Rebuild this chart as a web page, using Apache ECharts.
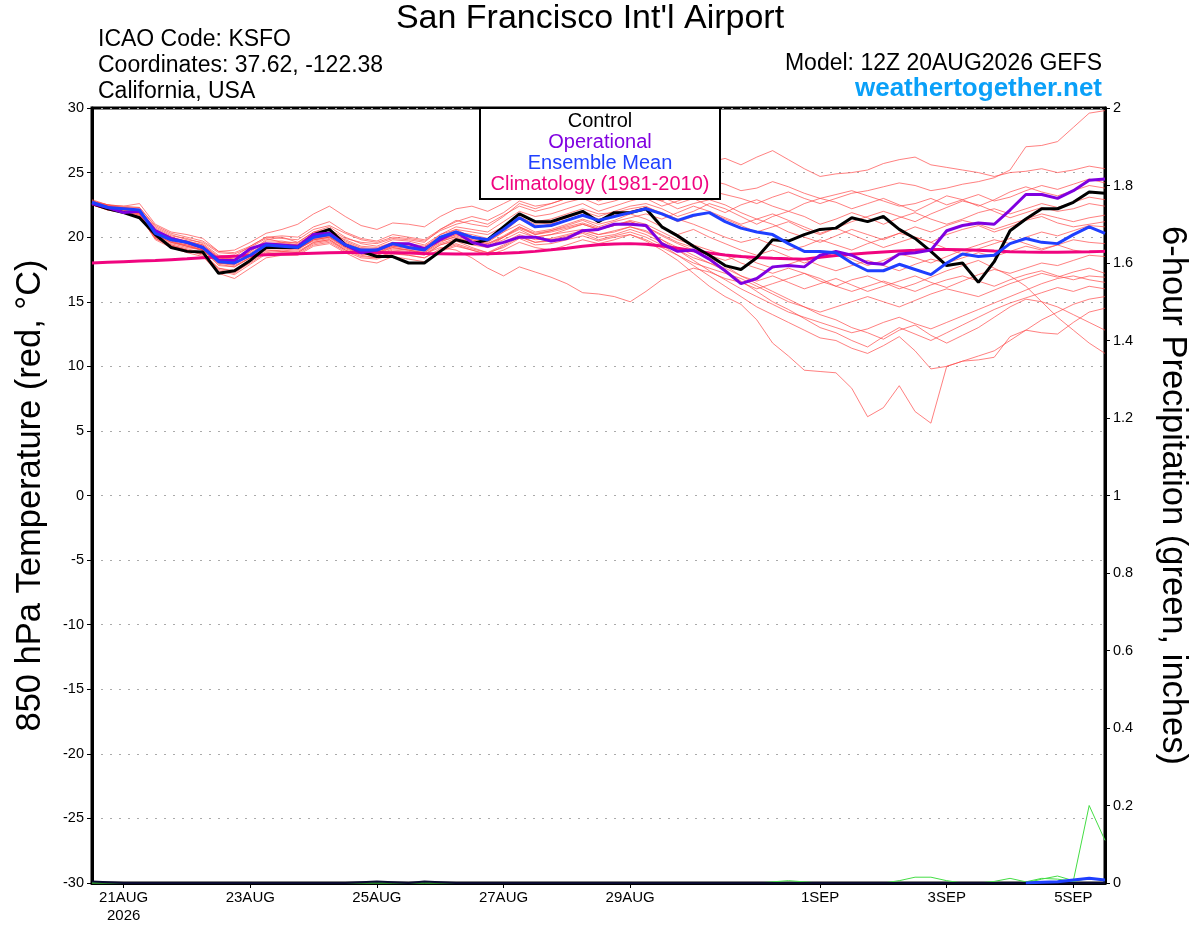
<!DOCTYPE html>
<html><head><meta charset="utf-8">
<script src="https://cdn.jsdelivr.net/npm/echarts@6/dist/echarts.min.js"></script>
<style>html,body{margin:0;padding:0;background:#fff}#c{width:1200px;height:927px}</style>
</head><body><div id="c"></div>
<script>
// 6-hourly steps from 12Z 20 AUG 2026 to 12Z 5 SEP 2026 (65 points)
const startUTC = Date.UTC(2026, 7, 20, 12);
const categories = [];
for (let i = 0; i < 65; i++) { const d = new Date(startUTC + i * 6 * 3600 * 1000); categories.push(d.toISOString().slice(5, 13) + 'Z'); }
const xTickLabels = {2: '21AUG\n2026', 10: '23AUG', 18: '25AUG', 26: '27AUG', 34: '29AUG', 46: '1SEP', 54: '3SEP', 62: '5SEP'};

const control = [22.6,22.2,21.9,21.5,20.2, 19.2,18.9,18.85,17.2,17.4, 18.2,19.2,19.2,19.2,20.2, 20.6,19.4,18.9,18.5,18.5, 18.0,18.0,18.9,19.8,19.5, 19.8,20.8,21.8,21.2,21.2, 21.6,22.0,21.2,21.9,21.9, 22.2,20.8,20.1,19.3,18.6, 17.8,17.5,18.4,19.8,19.7, 20.2,20.6,20.7,21.5,21.2, 21.6,20.6,19.9,18.9,17.8, 18.0,16.5,18.1,20.5,21.4, 22.2,22.2,22.7,23.5,23.4];
const operational = [22.6,22.3,21.9,22.0,20.5, 19.9,19.6,19.2,18.2,18.2, 19.1,19.5,19.4,19.3,20.2, 20.3,19.4,18.8,19.0,19.5, 19.5,19.1,19.8,20.4,19.6, 19.3,19.6,20.0,20.0,19.7, 19.9,20.5,20.6,21.0,21.0, 20.9,19.5,18.9,19.0,18.3, 17.4,16.4,16.8,17.7,17.8, 17.7,18.6,18.9,18.6,18.0, 17.9,18.7,18.8,19.0,20.5, 20.9,21.1,21.0,22.1,23.3, 23.3,23.0,23.6,24.4,24.5];
const ensembleMean = [22.7,22.3,22.2,22.1,20.3, 19.8,19.6,19.2,18.1,18.0, 18.6,19.4,19.3,19.2,20.0, 20.2,19.4,19.0,19.0,19.5, 19.2,19.0,20.0,20.4,20.0, 19.8,20.6,21.5,20.8,20.9, 21.3,21.7,21.3,21.6,21.9, 22.2,21.8,21.3,21.7,21.9, 21.2,20.7,20.4,20.2,19.5, 18.9,18.9,18.8,18.0,17.4, 17.4,17.9,17.5,17.1,18.0, 18.7,18.5,18.6,19.5,19.9, 19.6,19.5,20.2,20.8,20.3];
const climatology = [18.0,18.05,18.1,18.15,18.2, 18.26,18.32,18.4,18.47,18.53, 18.58,18.63,18.68,18.72,18.76, 18.8,18.82,18.83,18.82,18.8, 18.77,18.74,18.72,18.7,18.7, 18.72,18.76,18.82,18.9,19.02, 19.15,19.3,19.42,19.48,19.5, 19.45,19.32,19.15,18.95,18.77, 18.62,18.5,18.42,18.36,18.32, 18.3,18.45,18.58,18.68,18.78, 18.86,18.92,18.98,19.05,19.05, 19.02,18.98,18.92,18.88,18.85, 18.83,18.83,18.85,18.87,18.9];

const member01 = [22.9,22.5,22.4,22.6,21.0, 20.4,20.2,19.9,18.9,19.0, 19.6,20.3,20.6,21.0,21.8, 22.4,21.6,20.9,20.6,21.1, 21.0,20.8,21.6,22.2,22.4, 22.0,22.6,23.2,23.0,23.4, 23.9,24.2,23.6,23.8,24.3, 24.0,23.5,24.4,25.3,25.8, 26.1,25.6,26.2,26.7,26.0, 25.3,24.7,24.9,25.0,25.2, 25.7,26.0,26.2,25.6,25.4, 25.2,25.0,24.7,25.0,25.1, 25.3,25.0,25.2,25.5,25.3];
const member02 = [22.6,22.3,22.3,22.1,20.7, 20.1,19.9,19.5,18.6,18.5, 19.3,20.0,19.9,19.8,20.6, 20.9,20.3,19.8,19.6,20.0, 19.9,19.7,20.5,21.0,21.3, 21.0,21.7,22.4,22.0,22.3, 22.7,23.0,22.5,22.8,23.2, 23.0,22.4,22.8,23.2,23.6, 23.3,23.0,22.6,23.1,23.5, 23.0,22.6,23.0,23.4,23.6, 23.9,24.2,24.0,23.6,23.8, 24.1,24.3,24.6,25.2,27.0, 27.1,27.4,28.5,29.6,29.8];
const member03 = [22.8,22.4,22.1,21.8,20.2, 19.6,19.4,19.0,18.0,17.9, 18.9,19.8,20.0,19.6,20.4, 20.8,20.0,19.5,19.3,19.8, 19.7,19.4,20.2,20.8,20.6, 20.4,21.2,22.0,21.6,21.8, 22.2,22.6,22.0,22.4,22.8, 23.1,22.8,23.4,23.9,24.4, 24.1,23.6,23.8,24.3,23.9, 23.4,23.0,23.3,23.6,23.2, 22.8,22.4,22.6,23.0,22.5, 22.9,23.3,22.8,23.1,23.6, 24.0,23.7,24.1,24.5,24.2];
const member04 = [22.7,22.5,22.2,22.2,20.6, 20.0,19.7,19.4,18.5,18.3, 18.9,19.7,19.7,19.5,20.3, 20.6,19.9,19.6,19.5,19.9, 19.8,19.6,20.6,21.3,21.0, 20.8,21.6,22.6,22.2,22.6, 23.0,23.4,22.8,23.2,23.6, 23.8,23.1,22.6,23.0,22.4, 21.9,22.5,22.9,22.4,22.0, 22.6,23.0,22.7,22.2,22.6, 23.0,22.5,22.0,22.6,23.2, 22.9,22.4,22.9,23.5,23.9, 23.5,23.2,23.6,24.0,23.8];
const member05 = [22.6,22.2,22.0,21.7,20.1, 19.5,19.2,19.0,17.8,17.7, 18.4,19.1,19.1,19.0,19.8, 20.0,19.2,18.7,18.6,19.1, 19.0,18.8,19.7,20.2,19.9, 19.6,20.4,21.4,20.8,21.0, 21.6,22.0,21.6,22.0,22.4, 22.6,22.2,21.6,22.0,22.6, 22.2,21.6,21.0,21.6,22.0, 21.6,21.0,21.4,21.9,21.5, 21.0,21.5,21.9,21.4,21.0, 21.4,21.9,22.2,21.8,22.2, 22.6,22.3,22.7,23.1,22.9];
const member06 = [22.8,22.3,22.3,22.3,20.8, 20.2,19.8,19.6,18.8,18.7, 19.2,19.9,19.6,19.4,20.0, 20.3,19.8,19.3,19.2,19.6, 19.5,19.3,20.0,20.6,20.4, 20.2,20.8,21.8,21.2,21.4, 21.8,22.2,21.8,21.9,22.2, 22.4,21.8,21.2,21.6,21.9, 21.4,20.9,20.4,20.8,21.2, 20.6,20.2,20.7,21.2,21.6, 22.0,21.6,21.2,21.8,22.3, 22.8,22.5,22.0,21.5,21.9, 22.3,22.0,22.2,22.6,22.4];
const member07 = [22.5,22.1,21.9,21.6,19.9, 19.3,19.0,18.7,17.6,17.4, 18.2,19.0,18.9,18.8,19.6, 19.8,19.0,18.5,18.4,18.9, 18.8,18.6,19.4,19.8,19.4, 19.2,20.0,20.8,20.2,20.5, 20.9,21.3,20.8,21.2,21.5, 21.8,21.4,21.9,22.4,22.0, 21.5,21.0,21.4,21.0,20.4, 20.0,19.6,20.1,20.6,20.2, 19.8,20.3,20.8,20.4,20.9, 21.3,21.0,20.6,21.0,21.4, 21.8,21.5,21.2,21.5,21.7];
const member08 = [22.7,22.3,22.1,21.9,20.3, 19.7,19.4,19.1,18.1,18.0, 18.6,19.3,19.3,19.2,19.9, 20.1,19.4,19.0,18.9,19.3, 19.2,19.0,19.8,20.4,20.2, 19.9,20.7,21.6,21.0,21.1, 21.5,21.9,21.4,21.7,22.0, 22.3,21.9,21.4,21.0,20.5, 20.0,19.6,19.9,19.4,19.0, 19.3,19.8,19.4,19.0,19.5, 19.9,20.3,20.0,19.6,20.2, 20.6,20.9,20.4,20.8,21.3, 21.6,21.1,20.8,21.0,21.2];
const member09 = [22.6,22.4,22.3,22.1,20.5, 19.9,19.7,19.4,18.4,18.3, 18.8,19.5,19.6,19.6,20.4, 20.6,19.7,19.2,19.1,19.6, 19.4,19.2,20.2,20.6,20.0, 19.7,20.4,21.0,20.4,20.6, 21.0,21.4,21.0,21.3,21.8, 21.4,20.8,20.2,20.6,20.0, 19.5,19.0,18.6,19.0,18.5, 18.0,18.4,18.8,18.3,17.8, 18.2,18.7,18.4,18.0,18.5, 19.0,19.4,19.8,19.5,20.0, 20.4,20.1,20.5,20.9,20.8];
const member10 = [22.8,22.5,22.3,22.0,20.5, 20.0,19.6,19.3,18.4,18.2, 18.7,19.5,19.5,19.4,20.1, 20.3,19.6,19.1,19.0,19.5, 19.3,19.1,19.9,20.3,19.8, 19.5,20.0,20.6,20.0,20.2, 20.6,21.0,20.6,20.9,21.2, 20.8,20.2,19.6,19.2,18.6, 18.2,18.6,18.0,17.6,17.9, 18.3,17.8,17.4,17.8,18.2, 17.8,17.4,17.9,18.3,18.0, 18.4,18.8,18.5,18.9,19.3, 19.0,19.4,19.8,19.6,19.5];
const member11 = [22.5,22.2,22.0,21.9,20.2, 19.6,19.3,19.0,18.0,17.9, 18.5,19.2,19.2,19.1,19.7, 19.9,19.2,18.8,18.7,19.2, 19.0,18.8,19.5,19.9,19.6, 19.3,19.8,20.4,20.0,20.2, 20.4,20.6,20.2,20.5,20.8, 20.5,19.8,19.2,18.6,18.0, 17.6,17.0,16.6,17.0,16.5, 16.0,16.4,16.8,16.3,15.8, 16.2,16.6,17.0,16.5,16.1, 16.6,17.1,17.5,17.2,17.6, 18.0,17.8,18.2,18.6,18.5];
const member12 = [22.6,22.3,22.1,21.8,20.0, 19.4,19.1,18.8,17.6,17.3, 18.0,18.8,18.9,18.8,19.5, 19.7,19.0,18.6,18.4,18.8, 18.6,18.4,19.0,19.4,19.0, 18.6,19.0,19.6,19.2,19.0, 19.4,19.8,19.5,19.8,20.2, 19.8,19.2,18.6,18.0,17.6, 17.2,16.8,16.2,15.6,15.0, 14.6,14.2,14.6,15.0,15.4, 15.0,14.6,15.1,15.6,16.0, 15.7,15.4,15.9,16.4,16.8, 17.2,16.9,17.3,17.6,17.2];
const member13 = [22.7,22.4,22.1,21.9,20.3, 19.7,19.3,19.0,17.9,17.7, 18.4,19.1,19.2,19.1,19.8, 20.0,19.3,18.9,18.8,19.2, 19.0,18.7,19.2,19.0,18.4, 17.6,17.0,17.7,17.3,16.9, 16.4,15.7,15.6,15.4,15.0, 15.8,16.7,17.2,17.6,17.3, 16.8,16.5,16.0,16.4,16.8, 17.2,16.8,16.2,15.8,16.2, 16.6,16.2,15.8,16.3,16.7, 17.0,16.6,16.2,16.7,17.1, 17.4,17.0,16.7,17.0,16.9];
const member14 = [22.6,22.2,22.0,21.7,19.8, 19.2,18.8,18.5,17.2,16.8, 17.6,18.4,18.6,18.6,19.3, 19.5,18.8,18.2,18.0,18.5, 18.3,18.1,18.9,19.3,19.0, 18.7,19.3,20.0,19.6,19.8, 20.1,20.4,20.0,20.2,20.6, 20.2,19.6,19.0,18.2,17.4, 16.7,16.0,15.4,14.8,14.2, 13.8,13.4,13.0,12.6,12.9, 13.4,13.8,13.3,12.9,13.4, 13.9,14.4,14.9,15.4,15.9, 16.4,16.8,17.0,16.7,16.5];
const member15 = [22.8,22.4,22.2,22.0,20.4, 19.8,19.5,19.2,18.3,18.1, 18.6,19.3,19.3,19.2,19.9, 20.1,19.4,19.0,18.9,19.4, 19.2,19.0,19.7,20.0,19.6, 19.2,19.6,20.2,19.8,19.9, 20.2,20.5,20.2,20.4,20.8, 20.4,19.8,19.0,18.4,18.0, 17.4,16.6,15.8,15.0,14.4, 13.7,13.0,12.6,12.0,11.5, 12.3,13.0,12.5,12.0,12.6, 13.2,13.8,14.4,14.9,15.3, 15.7,16.1,15.8,16.2,16.0];
const member16 = [22.5,22.1,21.9,21.6,19.9, 19.3,19.0,18.6,17.4,17.1, 17.9,18.7,18.8,18.7,19.4, 19.6,18.9,18.4,18.3,18.7, 18.6,18.4,19.1,19.5,19.1, 18.8,19.4,20.1,19.6,19.7, 20.0,20.3,19.8,20.1,20.4, 20.0,19.4,18.6,17.8,17.0, 16.2,15.4,14.6,14.0,13.4, 12.8,12.2,12.0,11.4,11.0, 11.6,12.3,11.2,9.8,10.0, 10.4,10.8,11.2,12.0,12.8, 13.6,14.2,14.8,15.2,15.4];
const member17 = [22.7,22.3,22.0,21.8,20.0, 19.4,19.0,18.7,17.5,17.2, 18.1,18.9,19.0,18.9,19.6, 19.8,19.1,18.7,18.6,19.0, 18.9,18.7,19.4,19.7,19.2, 18.8,19.2,19.9,19.4,19.5, 19.8,20.1,19.7,20.0,20.2, 19.7,19.0,18.2,17.2,16.2, 15.4,14.8,13.6,11.8,10.8, 9.7,9.6,9.5,8.3,6.1, 6.8,8.5,6.5,5.6,10.0, 10.4,10.5,10.7,12.3,12.8, 12.6,12.5,13.4,14.2,14.5];
const member18 = [22.6,22.3,22.2,22.0,20.4, 19.8,19.5,19.1,18.1,18.0, 18.6,19.3,19.3,19.3,20.0, 20.2,19.5,19.1,19.0,19.4, 19.3,19.1,19.8,20.2,19.8, 19.5,20.1,20.8,20.3,20.5, 20.8,21.1,20.7,21.0,21.2, 20.8,20.1,19.5,19.0,18.4, 17.8,17.0,16.4,15.8,15.2, 14.6,14.0,13.6,13.0,12.6, 12.1,12.8,13.2,12.4,11.8, 12.4,13.0,13.8,14.6,15.2, 15.0,14.6,14.0,13.4,12.8];
const member19 = [22.7,22.4,22.2,21.9,20.2, 19.6,19.3,19.0,18.0,17.8, 18.4,19.2,19.2,19.1,19.8, 20.0,19.3,18.9,18.8,19.3, 19.1,18.9,19.6,20.1,19.7, 19.4,20.0,20.7,20.2,20.4, 20.7,21.0,20.6,20.9,21.3, 21.0,20.4,19.8,19.4,19.0, 18.6,18.0,17.6,17.2,17.6, 17.2,16.6,16.2,16.7,17.0, 16.5,16.0,16.4,16.9,17.4, 17.8,18.2,17.6,17.0,16.2, 15.0,13.8,12.8,11.8,11.0];
const member20 = [22.8,22.5,22.4,22.3,20.9, 20.3,20.0,19.7,18.9,18.8, 19.3,20.0,20.1,20.0,20.8, 21.2,20.4,19.9,19.7,20.2, 20.0,19.8,20.6,21.2,21.6, 21.3,21.9,22.8,22.4,22.6, 23.0,23.5,23.0,23.3,23.7, 23.4,22.8,22.2,22.6,22.9, 22.5,21.9,21.4,21.8,21.3, 20.8,20.3,20.7,20.2,19.7, 19.2,19.6,20.0,19.6,19.1, 18.7,19.1,19.5,19.9,19.5, 19.1,19.4,19.0,18.8,19.0];
const members = [member01,member02,member03,member04,member05,member06,member07,member08,member09,member10,member11,member12,member13,member14,member15,member16,member17,member18,member19,member20];

// 6-hour precipitation (inches); '-' = not drawn
const precipGreen1 = [0,0,0,0,0, 0,0,0,0,0, 0,0,0,0,0, 0,0,0,0,0, 0,0,0,0,0, 0,0,0,0,0, 0,0,0,0,0, 0,0,0,0,0, 0,0,0,0,0, 0,0,0,0,0, 0,0,0,0,0, 0,0,0,0,0, 0.010,0.018,0.006,0.200,0.110];
const precipGreen2 = [0,0,0,0,0, 0,0,0,0,0, 0,0,0,0,0, 0,0,0,0,0, 0,0,0,0,0, 0,0,0,0,0, 0,0,0,0,0, 0,0,0,0,0, 0,0,0,0.003,0.006, 0.003,0,0,0,0, 0,0.006,0.015,0.015,0.006, 0,0,0,0,0, 0,0,0,0,0];
const precipGreen3 = [0,0,0,0,0, 0,0,0,0,0, 0,0,0,0,0, 0,0,0,0,0, 0,0,0,0,0, 0,0,0,0,0, 0,0,0,0,0, 0,0,0,0,0, 0,0,0,0,0, 0,0,0,0,0, 0,0,0,0,0, 0,0,0.004,0.012,0.003, 0.012,0.010,0.004,0.012,0.006];
const precipControl = [0.004,0.002,0,0,0, 0,0,0,0,0, 0,0,0,0,0, 0,0,0.002,0.004,0.002, 0,0.004,0.002,0,0, 0,0,0,0,0, 0,0,0,0,0, 0,0,0,0,0, 0,0,0,0,0, 0,0,0,0,0, 0,0,0,0,0, 0,0,0,0,0, 0,0,0,0,0];
const precipMean = ['-','-','-','-','-', '-','-','-','-','-', '-','-','-','-','-', '-','-','-','-','-', '-','-','-','-','-', '-','-','-','-','-', '-','-','-','-','-', '-','-','-','-','-', '-','-','-','-','-', '-','-','-','-','-', '-','-','-','-','-', '-','-','-','-',0, 0.002,0.003,0.008,0.012,0.008];

const FONT = 'Liberation Sans, Arial, Helvetica, sans-serif';
const chart = echarts.init(document.getElementById('c'), null, {renderer: 'canvas'});

const series = [];
members.forEach((m, k) => series.push({
  name: 'Member ' + (k + 1), type: 'line', data: m, yAxisIndex: 0, showSymbol: false, symbol: 'none',
  lineStyle: {color: '#ff4a4a', width: 1, opacity: 0.7}, z: 2, silent: true
}));
[precipGreen1, precipGreen2, precipGreen3].forEach((p, k) => series.push({
  name: 'Precip ' + (k + 1), type: 'line', data: p, yAxisIndex: 1, showSymbol: false, symbol: 'none',
  lineStyle: {color: '#44dd44', width: 1}, z: 3, silent: true
}));
series.push({name: 'Control precip', type: 'line', data: precipControl, yAxisIndex: 1, showSymbol: false, symbol: 'none', lineStyle: {color: '#0a0a30', width: 2}, z: 3});
series.push({name: 'Mean precip', type: 'line', data: precipMean, yAxisIndex: 1, showSymbol: false, symbol: 'none', lineStyle: {color: '#1f3fff', width: 3}, z: 3});
series.push({name: 'Climatology', type: 'line', data: climatology, yAxisIndex: 0, showSymbol: false, symbol: 'none', lineStyle: {color: '#f0047f', width: 3}, z: 4});
series.push({name: 'Control', type: 'line', data: control, yAxisIndex: 0, showSymbol: false, symbol: 'none', lineStyle: {color: '#000000', width: 3}, z: 5});
series.push({name: 'Operational', type: 'line', data: operational, yAxisIndex: 0, showSymbol: false, symbol: 'none', lineStyle: {color: '#7f00e0', width: 3}, z: 6});
series.push({name: 'Ensemble Mean', type: 'line', data: ensembleMean, yAxisIndex: 0, showSymbol: false, symbol: 'none', lineStyle: {color: '#1f3fff', width: 3}, z: 7});

const legendItems = [
  {text: 'Control', color: '#000000'},
  {text: 'Operational', color: '#8000e0'},
  {text: 'Ensemble Mean', color: '#2040ff'},
  {text: 'Climatology (1981-2010)', color: '#f0047f'}
];

chart.setOption({
  animation: false,
  backgroundColor: '#ffffff',
  grid: {left: 92, right: 95, top: 108, bottom: 44, show: true, borderColor: '#000', borderWidth: 3, backgroundColor: 'transparent'},
  xAxis: {
    type: 'category', data: categories, boundaryGap: false,
    axisLine: {show: true, onZero: false, lineStyle: {color: '#000', width: 3}},
    axisTick: {show: true, inside: false, length: 5, interval: (i) => i in xTickLabels, lineStyle: {color: '#000', width: 1}},
    axisLabel: {interval: (i) => i in xTickLabels, formatter: (v, i) => xTickLabels[i] || '', color: '#000', fontFamily: FONT, fontSize: 15, margin: 6, lineHeight: 18},
    splitLine: {show: false}
  },
  yAxis: [
    {
      type: 'value', min: -30, max: 30, interval: 5, position: 'left',
      name: '850 hPa Temperature (red, \u00B0C)', nameLocation: 'middle', nameRotate: 90, nameGap: 44,
      nameTextStyle: {fontFamily: FONT, fontSize: 34.5, color: '#000'},
      axisLine: {show: true, onZero: false, lineStyle: {color: '#000', width: 3}},
      axisTick: {show: true, length: 5, lineStyle: {color: '#000'}},
      axisLabel: {color: '#000', fontFamily: FONT, fontSize: 14.5, margin: 8},
      splitLine: {show: true, lineStyle: {color: '#aaaaaa', width: 1, type: [2, 7]}}
    },
    {
      type: 'value', min: 0, max: 2, interval: 0.2, position: 'right',
      name: '6-hour Precipitation (green, inches)', nameLocation: 'middle', nameRotate: -90, nameGap: 50,
      nameTextStyle: {fontFamily: FONT, fontSize: 34.5, color: '#000'},
      axisLine: {show: true, onZero: false, lineStyle: {color: '#000', width: 3}},
      axisTick: {show: true, length: 5, lineStyle: {color: '#000'}},
      axisLabel: {color: '#000', fontFamily: FONT, fontSize: 14.5, margin: 8},
      splitLine: {show: false}
    }
  ],
  series: series,
  graphic: [
    {type: 'text', x: 590, y: 19, style: {text: "San Francisco Int'l Airport", font: '34px ' + FONT, fill: '#000', textAlign: 'center', textVerticalAlign: 'middle'}, z: 100},
    {type: 'text', x: 98, y: 40, style: {text: 'ICAO Code: KSFO', font: '23px ' + FONT, fill: '#000', textVerticalAlign: 'middle'}, z: 100},
    {type: 'text', x: 98, y: 66, style: {text: 'Coordinates: 37.62, -122.38', font: '23px ' + FONT, fill: '#000', textVerticalAlign: 'middle'}, z: 100},
    {type: 'text', x: 98, y: 92, style: {text: 'California, USA', font: '23px ' + FONT, fill: '#000', textVerticalAlign: 'middle'}, z: 100},
    {type: 'text', x: 1102, y: 64, style: {text: 'Model: 12Z 20AUG2026 GEFS', font: '23px ' + FONT, fill: '#000', textAlign: 'right', textVerticalAlign: 'middle'}, z: 100},
    {type: 'text', x: 1102, y: 89, style: {text: 'weathertogether.net', font: 'bold 26px ' + FONT, fill: '#0aa0f8', textAlign: 'right', textVerticalAlign: 'middle'}, z: 100},
    {type: 'rect', shape: {x: 480, y: 108, width: 240, height: 91}, style: {fill: '#fff', stroke: '#000', lineWidth: 2}, z: 100},
  ].concat(legendItems.map((it, k) => ({
    type: 'text', x: 600, y: 121 + k * 21.3, z: 101,
    style: {text: it.text, font: '20px ' + FONT, fill: it.color, textAlign: 'center', textVerticalAlign: 'middle'}
  })))
});
</script></body></html>
